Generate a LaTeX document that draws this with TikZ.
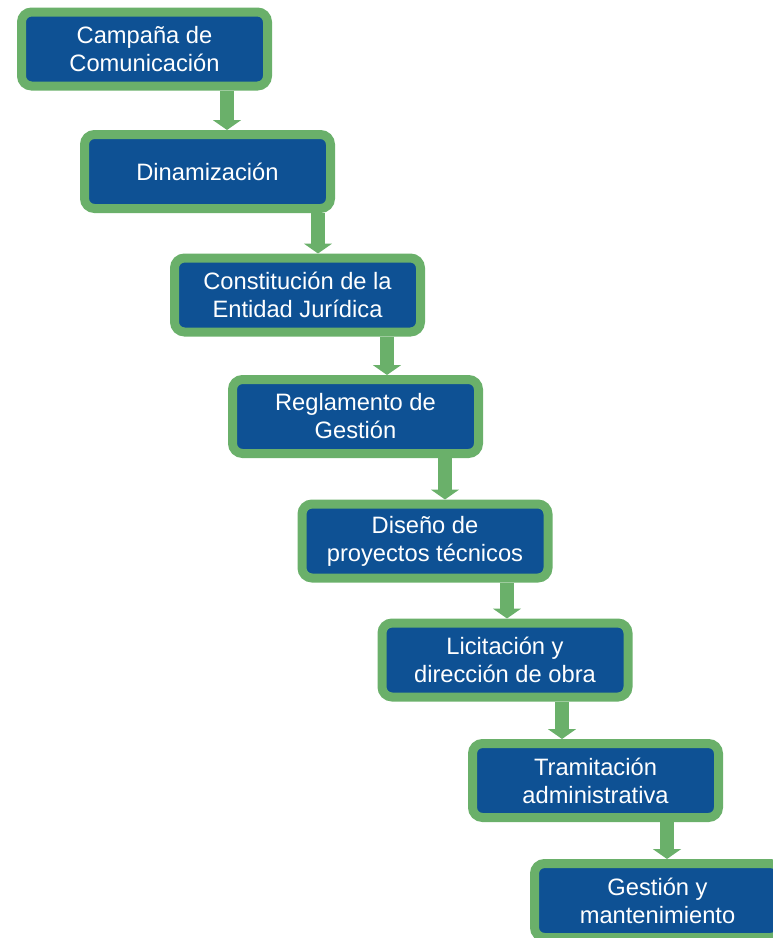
\documentclass[tikz,border=0pt]{standalone}
\usepackage{fontspec}
\setmainfont{Liberation Sans}
\usetikzlibrary{arrows.meta}
\definecolor{azulcaja}{RGB}{14,81,148}
\definecolor{verdeborde}{RGB}{106,176,106}

\begin{document}
\begin{tikzpicture}[x=1pt, y=-1pt,
		caja/.style = {draw = verdeborde, fill = azulcaja, line width = 9pt, rounded corners = 10pt,
			minimum width = 246pt, minimum height = 74pt, inner sep = 0pt, align = center,
			text = white, font = \fontsize{23.7}{28}\selectfont},
		flecha/.style = {draw = verdeborde, line width = 14pt, -{Triangle[width=28pt, length=10pt]}}]
				\useasboundingbox (0,0) rectangle (773,938);
				\node[caja] (campana) at (144.5,49) {Campaña de\\Comunicación};
				\node[caja] (dinamizacion) at (207.5,171.5) {Dinamización};
				\node[caja] (entidad) at (297.5,295) {Constitución de la\\Entidad Jurídica};
				\node[caja] (reglamento) at (355.5,416.5) {Reglamento de\\Gestión};
				\node[caja] (diseno) at (425,541) {Diseño de\\proyectos técnicos};
				\node[caja] (licitacion) at (505,660) {Licitación y\\dirección de obra};
				\node[caja] (tramitacion) at (595.5,780.5) {Tramitación\\administrativa};
				\node[caja] (gestion) at (657.5,900.5) {Gestión y\\mantenimiento};
				\draw[flecha] (campana.south -| 227,0) -- (dinamizacion.north -| 227,0);
				\draw[flecha] (dinamizacion.south -| 318,0) -- (entidad.north -| 318,0);
				\draw[flecha] (entidad.south -| 387,0) -- (reglamento.north -| 387,0);
				\draw[flecha] (reglamento.south -| 445,0) -- (diseno.north -| 445,0);
				\draw[flecha] (diseno.south -| 507,0) -- (licitacion.north -| 507,0);
				\draw[flecha] (licitacion.south -| 562,0) -- (tramitacion.north -| 562,0);
				\draw[flecha] (tramitacion.south -| 667,0) -- (gestion.north -| 667,0);
			\end{tikzpicture}
\end{document}
